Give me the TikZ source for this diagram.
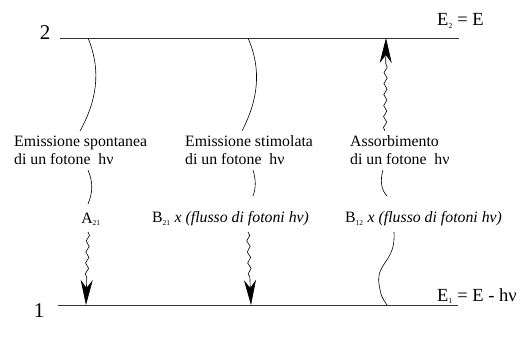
\documentclass[tikz,border=0pt]{standalone}
\usepackage{fontspec}
\setmainfont{Liberation Serif}
\usetikzlibrary{decorations.pathmorphing,arrows.meta}
\newcommand{\sbs}[1]{\textsubscript{\fontsize{7.5}{7.5}\selectfont #1}}
\begin{document}
\begin{tikzpicture}[x=1pt,y=-1pt,
  level/.style={line width=0.9pt, draw=black!80},
  lbl/.style={font=\fontsize{15.8}{18}\selectfont, align=left, inner sep=0pt},
  biglbl/.style={font=\fontsize{21}{21}\selectfont, inner sep=0pt},
  elbl/.style={font=\fontsize{18.5}{18}\selectfont, inner sep=0pt},
  curv/.style={line width=0.6pt},
  wave/.style={line width=0.6pt, decorate, decoration={snake, amplitude=1.6pt, segment length=11pt, post length=24pt}},
  tipd/.style={-{Stealth[length=25pt,width=12pt,inset=8pt]}}
]
\useasboundingbox (0,0) rectangle (521,337);
% levels
\coordinate (L2a) at (60,38);  \coordinate (L2b) at (459,38);
\coordinate (L1a) at (58,305); \coordinate (L1b) at (458,305);
\draw[level] (L2a) -- (L2b);
\draw[level] (L1a) -- (L1b);
\node[biglbl] (n2) at (45,33) {2};
\node[biglbl] (n1) at (39,311) {1};
\node[elbl, anchor=west] (e2) at (437,21) {E\sbs{2} = E};
\node[elbl, anchor=west] (e1) at (437,296) {E\sbs{1} = E - hν};
% text labels
\node[lbl, anchor=west] (t1) at (14,150) {Emissione spontanea\\di un fotone~ hν};
\node[lbl, anchor=west] (t2) at (185,150) {Emissione stimolata\\di un fotone~ hν};
\node[lbl, anchor=west] (t3) at (350,150) {Assorbimento\\di un fotone~ hν};
\node[lbl] (a21) at (91,219) {A\sbs{21}};
\node[lbl, anchor=west] (b21) at (152,219) {B\sbs{21} \textit{x (flusso di fotoni hν)}};
\node[lbl, anchor=west] (b12) at (345,219) {B\sbs{12} \textit{x (flusso di fotoni hν)}};
% column 1
\coordinate (c1a) at (88,38); \coordinate (c1b) at (80,131);
\draw[curv] (c1a) .. controls (102,72) and (96,102) .. (c1b);
\coordinate (c1c) at (88,170); \coordinate (c1d) at (88,204);
\draw[curv] (c1c) .. controls (93,182) and (93,192) .. (c1d);
\coordinate (c1e) at (88,232); \coordinate (c1f) at (86,305);
\draw[wave,tipd] (c1e) -- (c1f);
% column 2
\coordinate (c2a) at (248,38); \coordinate (c2b) at (242,131);
\draw[curv] (c2a) .. controls (262,70) and (258,100) .. (c2b);
\coordinate (c2c) at (253,170); \coordinate (c2d) at (253,196);
\draw[curv] (c2c) .. controls (256,180) and (256,188) .. (c2d);
\coordinate (c2e) at (248,232); \coordinate (c2f) at (251,305);
\draw[wave,tipd] (c2e) -- (c2f);
% column 3
\coordinate (c3a) at (385,131); \coordinate (c3b) at (386,38);
\draw[wave,tipd] (c3a) -- (c3b);
\coordinate (c3c) at (383,170); \coordinate (c3d) at (387,196);
\draw[curv] (c3c) .. controls (380,180) and (381,190) .. (c3d);
\coordinate (c3e) at (394,232); \coordinate (c3f) at (387,305);
\draw[curv] (c3e) .. controls (396,262) and (376,262) .. (379,284) .. controls (381,296) .. (c3f);
\end{tikzpicture}
\end{document}
